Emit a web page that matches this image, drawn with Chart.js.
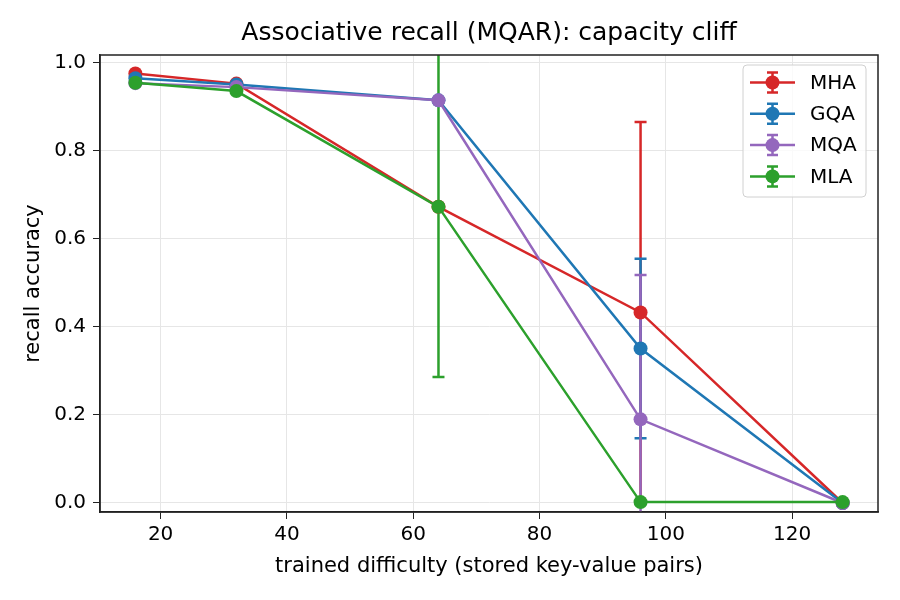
<!DOCTYPE html>
<html>
<head>
<meta charset="utf-8">
<script src="https://cdn.jsdelivr.net/npm/chart.js@4/dist/chart.umd.min.js"></script>
<style>
  html, body { margin: 0; padding: 0; background: #fff; }
  #wrap { width: 900px; height: 600px; }
</style>
</head>
<body>
<div id="wrap"><canvas id="myChart" width="900" height="600"></canvas></div>
<script>
// data
const difficulty = [16, 32, 64, 96, 128];
const seriesNames = ["MHA", "GQA", "MQA", "MLA"];
const seriesColors = ["#d62728", "#1f77b4", "#9467bd", "#2ca02c"];

const mhaAcc = [0.976, 0.953, 0.673, 0.433, 0.0];
const gqaAcc = [0.965, 0.951, 0.915, 0.351, 0.0];
const mqaAcc = [0.954, 0.945, 0.915, 0.190, 0.0];
const mlaAcc = [0.955, 0.936, 0.673, 0.002, 0.002];

const mhaErr = [0, 0, 0, 0.433, 0];
const gqaErr = [0, 0, 0, 0.204, 0];
const mqaErr = [0, 0, 0, 0.328, 0];
const mlaErr = [0, 0, 0.387, 0, 0];

const xTicks = [20, 40, 60, 80, 100, 120];
const yTicks = [0, 0.2, 0.4, 0.6, 0.8, 1.0];
const chartTitle = "Associative recall (MQAR): capacity cliff";

const accs = [mhaAcc, gqaAcc, mqaAcc, mlaAcc];
const errs = [mhaErr, gqaErr, mqaErr, mlaErr];

const FONT = "'DejaVu Sans', sans-serif";
const AXIS = "#222";
const LW = 2.5;

// error bars drawn under the lines, like matplotlib
const errorBars = {
  id: "errorBars",
  beforeDatasetsDraw(chart) {
    const { ctx, chartArea, scales } = chart;
    ctx.save();
    ctx.beginPath();
    ctx.rect(chartArea.left, chartArea.top, chartArea.right - chartArea.left, chartArea.bottom - chartArea.top);
    ctx.clip();
    ctx.lineWidth = LW;
    chart.data.datasets.forEach((ds, i) => {
      ctx.strokeStyle = ds.borderColor;
      ds.data.forEach((p, j) => {
        const e = errs[i][j];
        if (!e) return;
        const x = scales.x.getPixelForValue(p.x);
        const y1 = scales.y.getPixelForValue(p.y + e);
        const y2 = scales.y.getPixelForValue(p.y - e);
        ctx.beginPath();
        ctx.moveTo(x, y1); ctx.lineTo(x, y2);
        ctx.moveTo(x - 6, y1); ctx.lineTo(x + 6, y1);
        ctx.moveTo(x - 6, y2); ctx.lineTo(x + 6, y2);
        ctx.stroke();
      });
    });
    ctx.restore();
  }
};

// full frame, title centred over the axes, matplotlib-style legend
const frameLegend = {
  id: "frameLegend",
  afterDraw(chart) {
    const { ctx, chartArea } = chart;
    ctx.save();
    ctx.strokeStyle = AXIS;
    ctx.lineWidth = 1.5;
    ctx.strokeRect(chartArea.left, chartArea.top, chartArea.right - chartArea.left, chartArea.bottom - chartArea.top);

    ctx.fillStyle = "#000";
    ctx.font = "25px " + FONT;
    ctx.textAlign = "center";
    ctx.textBaseline = "middle";
    ctx.fillText(chartTitle, (chartArea.left + chartArea.right) / 2, 33);
    ctx.textAlign = "left";

    const bx = chartArea.right - 135, by = chartArea.top + 10, bw = 123, bh = 132;
    ctx.fillStyle = "rgba(255,255,255,0.8)";
    ctx.strokeStyle = "#d0d0d0";
    ctx.lineWidth = 1;
    ctx.beginPath();
    ctx.roundRect(bx, by, bw, bh, 4);
    ctx.fill();
    ctx.stroke();

    ctx.font = "20px " + FONT;
    seriesNames.forEach((name, i) => {
      const cy = by + 17.5 + i * 31.3;
      const hx = bx + 7;
      ctx.strokeStyle = seriesColors[i];
      ctx.fillStyle = seriesColors[i];
      ctx.lineWidth = LW;
      ctx.beginPath();
      ctx.moveTo(hx, cy); ctx.lineTo(hx + 45, cy);
      ctx.moveTo(hx + 22.5, cy - 10); ctx.lineTo(hx + 22.5, cy + 10);
      ctx.moveTo(hx + 17, cy - 10); ctx.lineTo(hx + 28, cy - 10);
      ctx.moveTo(hx + 17, cy + 10); ctx.lineTo(hx + 28, cy + 10);
      ctx.stroke();
      ctx.beginPath();
      ctx.arc(hx + 22.5, cy, 7, 0, Math.PI * 2);
      ctx.fill();
      ctx.fillStyle = "#000";
      ctx.fillText(name, bx + 67, cy + 1);
    });
    ctx.restore();
  }
};

new Chart("myChart", {
  type: "line",
  data: {
    datasets: seriesNames.map((name, i) => ({
      label: name,
      data: difficulty.map((d, j) => ({ x: d, y: accs[i][j] })),
      order: seriesNames.length - i,
      borderColor: seriesColors[i],
      backgroundColor: seriesColors[i],
      borderWidth: LW,
      pointRadius: 7,
      pointHoverRadius: 7,
      pointBorderWidth: 0,
      tension: 0,
      fill: false
    }))
  },
  options: {
    responsive: false,
    animation: false,
    events: [],
    layout: { padding: { top: 55, right: 22, bottom: 0, left: 0 } },
    plugins: {
      legend: { display: false },
      tooltip: { enabled: false },
      title: { display: false }
    },
    scales: {
      x: {
        type: "linear",
        min: 10.4,
        max: 133.6,
        afterBuildTicks: s => { s.ticks = xTicks.map(v => ({ value: v })); },
        afterFit: s => { s.height = 88; },
        ticks: {
          color: "#000",
          font: { family: FONT, size: 20 },
          padding: 4,
          maxRotation: 0,
          callback: v => String(v)
        },
        grid: { color: "#e6e6e6", lineWidth: 1, tickColor: AXIS, tickLength: 7 },
        border: { color: AXIS, width: 1.5 },
        title: {
          display: true,
          text: "trained difficulty (stored key-value pairs)",
          color: "#000",
          font: { family: FONT, size: 21 },
          padding: { top: 0, bottom: 21 }
        }
      },
      y: {
        type: "linear",
        min: -0.0205,
        max: 1.018,
        afterBuildTicks: s => { s.ticks = yTicks.map(v => ({ value: v })); },
        afterFit: s => { s.width = 100; },
        ticks: {
          color: "#000",
          font: { family: FONT, size: 20 },
          padding: 7,
          callback: v => Number(v).toFixed(1)
        },
        grid: { color: "#e6e6e6", lineWidth: 1, tickColor: AXIS, tickLength: 7 },
        border: { color: AXIS, width: 1.5 },
        title: {
          display: true,
          text: "recall accuracy",
          color: "#000",
          font: { family: FONT, size: 21 },
          padding: { top: 21, bottom: 0 }
        }
      }
    }
  },
  plugins: [errorBars, frameLegend]
});
</script>
</body>
</html>
